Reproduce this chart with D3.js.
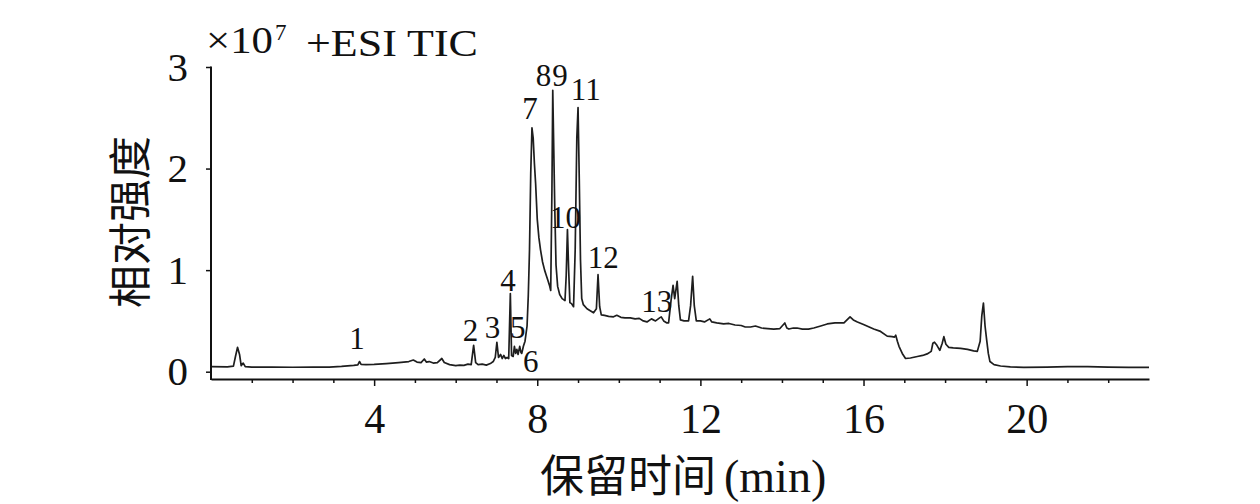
<!DOCTYPE html>
<html><head><meta charset="utf-8">
<script src="https://cdn.jsdelivr.net/npm/d3@7"></script>
<style>body{margin:0;background:#fff;} svg{display:block;}</style>
</head><body><svg id="c" width="1260" height="504"></svg>
<script>
// retention time (min)
const times = [0.00,0.40,0.55,0.60,0.65,0.70,0.74,0.79,0.84,1.0,1.5,2.0,2.5,2.9,3.2,3.5,3.60,3.64,3.68,3.8,4.0,4.3,4.6,4.85,4.96,5.05,5.15,5.23,5.28,5.35,5.45,5.55,5.66,5.72,5.85,6.0,6.1,6.2,6.3,6.38,6.44,6.49,6.55,6.65,6.75,6.85,6.92,6.97,7.01,7.05,7.10,7.14,7.18,7.22,7.26,7.30,7.34,7.37,7.41,7.44,7.47,7.50,7.53,7.57,7.60,7.62,7.66,7.70,7.75,7.78,7.81,7.84,7.87,7.90,7.93,7.96,8.00,8.04,8.08,8.13,8.18,8.22,8.26,8.30,8.33,8.36,8.38,8.40,8.43,8.46,8.50,8.55,8.61,8.68,8.71,8.74,8.77,8.80,8.84,8.89,8.93,8.97,9.00,9.03,9.06,9.09,9.13,9.22,9.30,9.38,9.45,9.49,9.53,9.57,9.65,9.75,9.87,9.95,10.05,10.15,10.28,10.40,10.50,10.60,10.69,10.80,10.90,11.0,11.04,11.10,11.18,11.22,11.28,11.33,11.37,11.43,11.47,11.51,11.60,11.71,11.76,11.81,11.85,11.90,12.0,12.10,12.23,12.28,12.40,12.57,12.70,12.85,13.00,13.10,13.23,13.35,13.50,13.65,13.80,13.95,14.07,14.12,14.17,14.28,14.37,14.50,14.65,14.78,14.95,15.11,15.30,15.52,15.62,15.67,15.75,15.85,16.00,16.25,16.40,16.58,16.70,16.76,16.79,16.83,16.87,16.95,17.03,17.15,17.32,17.45,17.56,17.66,17.70,17.74,17.80,17.87,17.93,17.97,18.02,18.09,18.20,18.38,18.55,18.70,18.79,18.86,18.90,18.94,18.98,19.02,19.06,19.10,19.20,19.36,19.60,19.93,20.5,21.0,21.5,22.0,22.5,23.0];
// relative intensity (x10^7)
const intensity = [0.050,0.048,0.055,0.15,0.24,0.17,0.06,0.085,0.05,0.045,0.046,0.044,0.045,0.046,0.052,0.062,0.068,0.10,0.072,0.070,0.072,0.080,0.090,0.10,0.115,0.095,0.09,0.125,0.095,0.10,0.085,0.09,0.13,0.09,0.07,0.060,0.065,0.062,0.075,0.07,0.26,0.09,0.07,0.075,0.065,0.08,0.10,0.14,0.29,0.14,0.17,0.13,0.16,0.13,0.14,0.13,0.77,0.16,0.15,0.25,0.18,0.22,0.17,0.25,0.19,0.18,0.25,0.30,0.45,0.75,1.20,1.95,2.40,2.30,2.05,1.85,1.50,1.32,1.20,1.08,1.00,0.95,0.90,0.85,0.80,1.80,2.77,2.30,1.60,1.05,0.84,0.76,0.72,0.70,0.95,1.40,1.00,0.68,0.67,0.64,1.20,2.30,2.60,1.90,1.10,0.72,0.66,0.62,0.60,0.58,0.62,0.955,0.64,0.56,0.555,0.545,0.54,0.555,0.535,0.53,0.53,0.52,0.525,0.50,0.49,0.52,0.50,0.53,0.54,0.50,0.48,0.48,0.70,0.85,0.72,0.89,0.65,0.51,0.50,0.50,0.65,0.94,0.65,0.50,0.50,0.49,0.52,0.49,0.48,0.47,0.475,0.46,0.455,0.44,0.44,0.45,0.43,0.425,0.42,0.425,0.48,0.43,0.42,0.43,0.43,0.42,0.42,0.43,0.45,0.47,0.48,0.48,0.52,0.54,0.51,0.49,0.465,0.42,0.40,0.35,0.345,0.34,0.36,0.30,0.25,0.18,0.13,0.135,0.15,0.16,0.175,0.20,0.28,0.29,0.26,0.21,0.28,0.345,0.27,0.24,0.235,0.23,0.22,0.205,0.20,0.30,0.55,0.675,0.45,0.31,0.18,0.10,0.07,0.056,0.048,0.043,0.045,0.050,0.049,0.045,0.043,0.043];

const yTicks = [0, 1, 2, 3];
const xMajorTicks = [4, 8, 12, 16, 20];
const xMinorTicks = [1, 2, 3, 5, 6, 7, 9, 10, 11, 13, 14, 15, 17, 18, 19, 21, 22];
const xDomain = [0, 23];
const yFloor = -0.072;

// peak annotations (label, time, intensity of label baseline)
const peakLabels = ["1","2","3","4","5","6","7","8","9","10","11","12","13"];
const peakLabelTimes = [3.58,6.36,6.90,7.28,7.52,7.84,7.82,8.15,8.56,8.69,9.19,9.62,10.93];
const peakLabelValues = [0.224,0.306,0.33,0.79,0.336,-0.006,2.485,2.81,2.81,1.416,2.675,1.02,0.59];

const serif = "'Liberation Serif','Times New Roman',serif";
const cjk = "'Noto Sans CJK SC','Noto Sans CJK JP',sans-serif";

const svg = d3.select("#c");
const x = d3.scaleLinear().domain(xDomain).range([211, 1149]);
const y = d3.scaleLinear().domain([0, 3]).range([371.7, 67]);
const axisY = y(yFloor);

// line
const line = d3.line().x((d, i) => x(times[i])).y(d => y(d)).curve(d3.curveLinear);
svg.append("path").datum(intensity).attr("d", line)
  .attr("fill", "none").attr("stroke", "#1e1e1e").attr("stroke-width", 1.7).attr("stroke-linejoin", "round");

// x axis minor
const gxMinor = svg.append("g").attr("transform", `translate(0,${axisY})`)
  .call(d3.axisBottom(x).tickValues(xMinorTicks).tickSize(4).tickSizeOuter(0).tickFormat(""));
gxMinor.select(".domain").attr("stroke-width", 2).attr("stroke", "#111");
gxMinor.selectAll(".tick line").attr("stroke-width", 1.5).attr("stroke", "#111");
// x axis major
const gxMajor = svg.append("g").attr("transform", `translate(0,${axisY})`)
  .call(d3.axisBottom(x).tickValues(xMajorTicks).tickSize(7).tickSizeOuter(0).tickPadding(17).tickFormat(d3.format("d")));
gxMajor.select(".domain").remove();
gxMajor.selectAll(".tick line").attr("stroke-width", 1.5).attr("stroke", "#111");
gxMajor.selectAll(".tick text").attr("font-family", serif).attr("font-size", 42).attr("fill", "#111");

// y axis
const gy = svg.append("g").attr("transform", `translate(${x(0)},0)`)
  .call(d3.axisLeft(y).tickValues(yTicks).tickSize(5).tickSizeOuter(0).tickPadding(18).tickFormat(d3.format("d")));
gy.select(".domain").remove();
gy.selectAll(".tick line").attr("stroke-width", 1.5).attr("stroke", "#111");
gy.selectAll(".tick text").attr("font-family", serif).attr("font-size", 41).attr("fill", "#111");
svg.append("line").attr("x1", x(0)).attr("x2", x(0)).attr("y1", y(3) - 0.5).attr("y2", axisY + 1)
  .attr("stroke", "#111").attr("stroke-width", 2);

// peak labels
svg.append("g").selectAll("text").data(peakLabels).join("text")
  .attr("x", (d, i) => x(peakLabelTimes[i])).attr("y", (d, i) => y(peakLabelValues[i]))
  .attr("text-anchor", "middle").attr("font-family", serif).attr("font-size", 31).attr("fill", "#111")
  .text(d => d);

// header
svg.append("text").attr("x", 206).attr("y", 53).attr("font-family", serif).attr("font-size", 38)
  .attr("textLength", 67).attr("lengthAdjust", "spacingAndGlyphs").attr("fill", "#111").text("×10");
svg.append("text").attr("x", 275).attr("y", 40).attr("font-family", serif).attr("font-size", 23)
  .attr("fill", "#111").text("7");
svg.append("text").attr("x", 306).attr("y", 56).attr("font-family", serif).attr("font-size", 38)
  .attr("textLength", 172).attr("lengthAdjust", "spacingAndGlyphs").attr("fill", "#111").text("+ESI TIC");

// axis titles
svg.append("text").attr("transform", "translate(127,222) rotate(-90)")
  .attr("text-anchor", "middle").attr("dominant-baseline", "central")
  .attr("font-family", cjk).attr("font-size", 43).attr("fill", "#111").text("相对强度");
svg.append("text").attr("x", 540).attr("y", 492).attr("font-family", cjk).attr("font-size", 44)
  .attr("fill", "#111").text("保留时间");
svg.append("text").attr("x", 724).attr("y", 492).attr("font-family", serif).attr("font-size", 46)
  .attr("fill", "#111").text("(min)");
</script></body></html>
